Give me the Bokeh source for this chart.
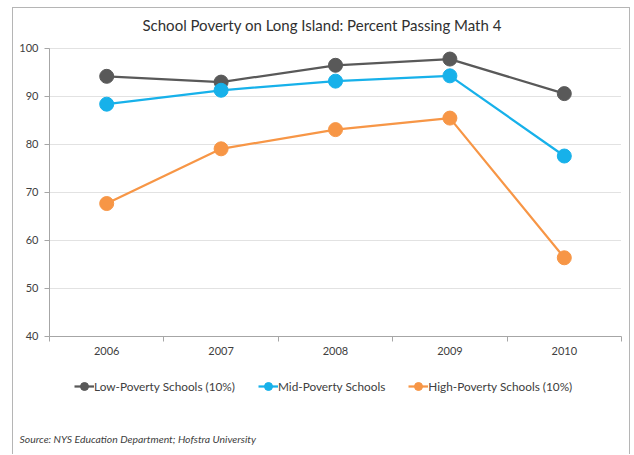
from bokeh.plotting import figure
from bokeh.models import FixedTicker, Legend, LegendItem, Label, Range1d
from bokeh.embed import file_html
from bokeh.resources import INLINE

years = [2006, 2007, 2008, 2009, 2010]
low_poverty = [94.2, 93.0, 96.5, 97.8, 90.6]
mid_poverty = [88.4, 91.3, 93.2, 94.3, 77.6]
high_poverty = [67.7, 79.1, 83.1, 85.5, 56.4]
series_names = ["Low-Poverty Schools (10%)", "Mid-Poverty Schools", "High-Poverty Schools (10%)"]
series_colors = ["#595959", "#17b1ea", "#f79646"]
y_ticks = [40, 50, 60, 70, 80, 90, 100]
title_text = "School Poverty on Long Island: Percent Passing Math 4"
source_text = "Source: NYS Education Department; Hofstra University"

FONT = "Lato"
X_LO, X_HI = years[0] - 0.5, years[-1] + 0.5
Y_LO, Y_HI = y_ticks[0], y_ticks[-1]

# frame covers the whole figure; ranges chosen so plot area matches reference
p = figure(width=618, height=447, output_backend="svg", toolbar_location=None,
           x_range=Range1d(2005.1853, 2010.5874), y_range=Range1d(15.208, 108.333),
           min_border_left=0, min_border_right=0, min_border_top=0, min_border_bottom=0)
p.styles = {"margin-left": "12px", "margin-top": "7px", "border-top": "1px solid #b5b5b5",
            "border-left": "1px solid #b5b5b5", "border-right": "1px solid #b5b5b5"}
p.outline_line_color = None
p.background_fill_color = "white"
p.border_fill_color = "white"

# x axis
p.xaxis.fixed_location = Y_LO
p.xaxis.bounds = (X_LO, X_HI)
p.xaxis.ticker = FixedTicker(ticks=years, minor_ticks=[y - 0.5 for y in years] + [X_HI])
p.xaxis.major_tick_line_color = None
p.xaxis.major_tick_out = 5
p.xaxis.minor_tick_line_color = "#a6a6a6"
p.xaxis.minor_tick_out = 5
p.xaxis.minor_tick_in = 0
p.xaxis.axis_line_color = "#a6a6a6"
p.xaxis.major_label_text_font = FONT
p.xaxis.major_label_text_font_size = "11px"
p.xaxis.major_label_text_color = "#404040"
p.xaxis.major_label_standoff = 6

# y axis
p.yaxis.fixed_location = X_LO
p.yaxis.bounds = (Y_LO, Y_HI)
p.yaxis.ticker = FixedTicker(ticks=y_ticks, minor_ticks=[])
p.yaxis.major_tick_line_color = "#a6a6a6"
p.yaxis.major_tick_out = 5
p.yaxis.major_tick_in = 0
p.yaxis.axis_line_color = "#a6a6a6"
p.yaxis.major_label_text_font = FONT
p.yaxis.major_label_text_font_size = "11px"
p.yaxis.major_label_text_color = "#404040"
p.yaxis.major_label_standoff = 6

p.xgrid.grid_line_color = None
try:
    p.ygrid.cross_bounds = (X_LO, X_HI)
    p.ygrid.grid_line_color = "#c4c4c4"
    p.ygrid.grid_line_dash = "1 1"
except Exception:
    p.ygrid.grid_line_color = None
    p.segment(x0=[X_LO] * len(y_ticks), x1=[X_HI] * len(y_ticks), y0=y_ticks, y1=y_ticks,
              line_color="#c4c4c4", line_dash="1 1", line_width=1)

items = []
for vals, name, color in zip([low_poverty, mid_poverty, high_poverty], series_names, series_colors):
    r1 = p.line(years, vals, line_color=color, line_width=2.25)
    r2 = p.scatter(years, vals, size=14, fill_color=color, line_color=color)
    items.append(LegendItem(label=name, renderers=[r1, r2]))

legend = Legend(items=items, orientation="horizontal", location=(61, 59),
                label_text_font=FONT, label_text_font_size="11.8px", label_text_color="#404040",
                glyph_width=20, glyph_height=20, label_standoff=0, spacing=23,
                border_line_color=None, background_fill_alpha=0, padding=0, margin=0)
p.add_layout(legend, "center")

p.add_layout(Label(x=129, y=431, x_units="screen", y_units="screen", text=title_text,
                   text_font=FONT, text_font_size="15px", text_color="#303030",
                   text_align="left", text_baseline="middle"))
p.add_layout(Label(x=6, y=17, x_units="screen", y_units="screen", text=source_text,
                   text_font=FONT, text_font_size="10.4px", text_font_style="italic",
                   text_color="#404040", text_align="left", text_baseline="middle"))

open("out.html", "w").write(file_html(p, INLINE))
